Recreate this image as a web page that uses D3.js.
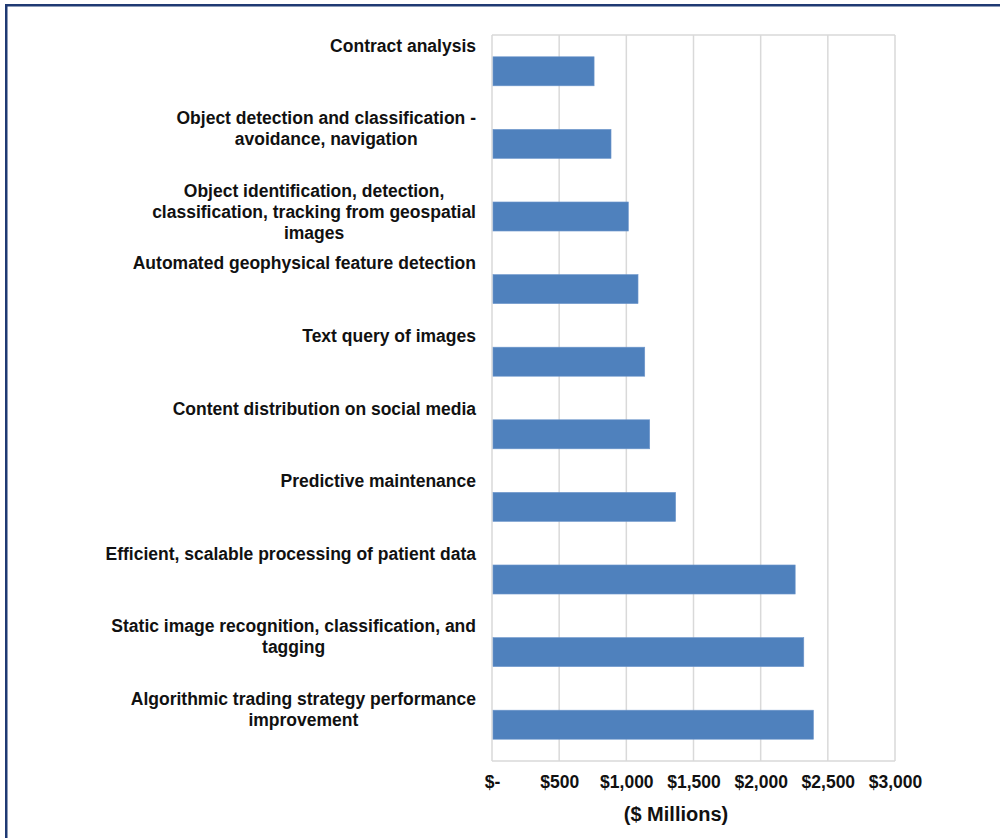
<!DOCTYPE html>
<html>
<head>
<meta charset="utf-8">
<script src="https://cdn.jsdelivr.net/npm/d3@7"></script>
<style>
  html, body { margin: 0; padding: 0; background: #fff; }
  svg { display: block; }
  text { font-family: "Liberation Sans", Arial, sans-serif; font-weight: bold; fill: #111; }
</style>
</head>
<body>
<svg id="chart" width="1000" height="838"></svg>
<script>
// Use cases, top to bottom; "\n" marks a line break in the label
const categories = [
  "Contract analysis",
  "Object detection and classification -\navoidance, navigation",
  "Object identification, detection,\nclassification, tracking from geospatial\nimages",
  "Automated geophysical feature detection",
  "Text query of images",
  "Content distribution on social media",
  "Predictive maintenance",
  "Efficient, scalable processing of patient data",
  "Static image recognition, classification, and\ntagging",
  "Algorithmic trading strategy performance\nimprovement"
];
// Value in $ millions
const values = [760, 886, 1015, 1087, 1137, 1174, 1367, 2257, 2321, 2393];
const tickValues = [0, 500, 1000, 1500, 2000, 2500, 3000];
const tickLabels = ["$-", "$500", "$1,000", "$1,500", "$2,000", "$2,500", "$3,000"];
const axisTitle = "($ Millions)";

const svg = d3.select("#chart");

// Outer frame
svg.append("rect")
  .attr("x", 6.25).attr("y", 5.25)
  .attr("width", 1010).attr("height", 850)
  .attr("fill", "none")
  .attr("stroke", "#1f3a73")
  .attr("stroke-width", 2.5);

const plot = { left: 492, right: 895, top: 35, bottom: 761 };

const x = d3.scaleLinear().domain([0, 3000]).range([plot.left, plot.right]);
const y = d3.scaleBand().domain(categories).range([plot.top, plot.bottom])
  .paddingInner(0.6).paddingOuter(0.3);

// Gridlines
svg.append("g").selectAll("line").data(tickValues).join("line")
  .attr("x1", d => x(d)).attr("x2", d => x(d))
  .attr("y1", plot.top).attr("y2", plot.bottom)
  .attr("stroke", "#d9d9d9").attr("stroke-width", 1.5);

// Plot-area border (top and bottom)
svg.append("g").selectAll("line").data([plot.top, plot.bottom]).join("line")
  .attr("x1", plot.left).attr("x2", plot.right)
  .attr("y1", d => d).attr("y2", d => d)
  .attr("stroke", "#d9d9d9").attr("stroke-width", 1.5);

// Bars
svg.append("g").selectAll("rect").data(values).join("rect")
  .attr("x", x(0) + 1)
  .attr("y", (d, i) => y(categories[i]))
  .attr("width", d => x(d) - x(0) - 1)
  .attr("height", y.bandwidth())
  .attr("fill", "#4f81bd")
  .attr("stroke", "#6f97cc")
  .attr("stroke-width", 0.6);

// Category labels: centred lines, block right-aligned at the axis, set at top of each band
const step = y.step();
const labelRight = 476;
const bandTop = i => plot.top + i * step;
const labels = svg.append("g");
categories.forEach((c, i) => {
  const lines = c.split("\n");
  const g = labels.append("g");
  const ts = lines.map((ln, j) => g.append("text")
    .attr("font-size", 17.5)
    .attr("y", bandTop(i) + 16.5 + j * 21)
    .text(ln));
  const widths = ts.map(t => t.node().getComputedTextLength());
  const w = d3.max(widths);
  ts.forEach(t => t.attr("x", labelRight - w / 2).attr("text-anchor", "middle"));
});

// X axis tick labels
const xAxis = d3.axisBottom(x)
  .tickValues(tickValues)
  .tickFormat((d, i) => tickLabels[i])
  .tickSize(0)
  .tickPadding(0);
const ax = svg.append("g")
  .attr("transform", `translate(0, ${plot.bottom})`)
  .call(xAxis);
ax.select(".domain").remove();
ax.selectAll("text")
  .attr("dy", null)
  .attr("y", 27)
  .attr("font-size", 17.5)
  .attr("font-family", "Liberation Sans, Arial, sans-serif")
  .attr("font-weight", "bold")
  .attr("fill", "#111");

// Axis title
svg.append("text")
  .attr("x", 676).attr("y", 821)
  .attr("text-anchor", "middle")
  .attr("font-size", 20)
  .text(axisTitle);
</script>
</body>
</html>
